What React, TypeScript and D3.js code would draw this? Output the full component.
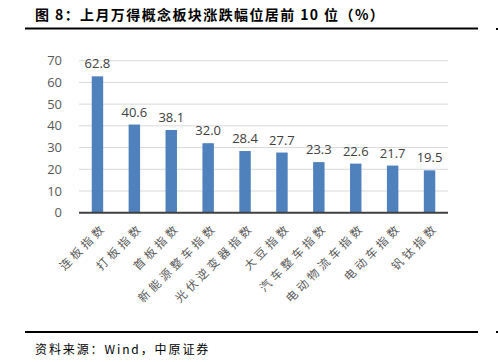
import React from "react";
import * as d3 from "d3";

const categories = ["连板指数", "打板指数", "首板指数", "新能源整车指数", "光伏逆变器指数", "大豆指数", "汽车整车指数", "电动物流车指数", "电动车指数", "钒钛指数"];
const values = [62.8, 40.6, 38.1, 32.0, 28.4, 27.7, 23.3, 22.6, 21.7, 19.5];
const yTicks = [0, 10, 20, 30, 40, 50, 60, 70];
const title = "图 8：上月万得概念板块涨跌幅位居前 10 位（%）";
const source = "资料来源：Wind，中原证券";

const W = 498, H = 362;
const left = 79, right = 448, top = 60.7, bottom = 212.7;
const cjk = "'Noto Sans CJK SC', 'Noto Sans', sans-serif";

export default function App() {
  const x = d3.scaleBand<string>().domain(categories).range([left, right]).paddingInner(0.69).paddingOuter(0.345);
  const y = d3.scaleLinear().domain([0, 70]).range([bottom, top]);
  return (
    <svg width={W} height={H} style={{ position: "absolute", left: 0, top: 0, background: "#fff" }}>
      <text x={35} y={20} fontFamily={cjk} fontWeight="bold" fontSize={14} letterSpacing={1.4} fill="#000">{title}</text>
      <rect x={25} y={27.5} width={453} height={2} fill="#000" />
      <rect x={496} y={28} width={2} height={2} fill="#000" />
      {yTicks.map(t => (
        <g key={t}>
          {t > 0 && <line x1={left} x2={right} y1={y(t)} y2={y(t)} stroke="#D9D9D9" strokeWidth={1} />}
          <text x={62} y={y(t)} dy="0.35em" textAnchor="end" fontFamily="'Open Sans', sans-serif" fontSize={13} fill="#595959">{t}</text>
        </g>
      ))}
      {values.map((v, i) => {
        const bx = x(categories[i])!;
        const bw = x.bandwidth();
        return (
          <g key={i}>
            <rect x={bx} y={y(v)} width={bw} height={bottom - y(v)} fill="#4F81BD" />
            <text x={bx + bw / 2} y={y(v) - 8} textAnchor="middle" fontFamily="'Open Sans', sans-serif" fontSize={13} fill="#404040">{v.toFixed(1)}</text>
          </g>
        );
      })}
      <line x1={left} x2={right} y1={bottom} y2={bottom} stroke="#404040" strokeWidth={2} />
      {categories.map((c, i) => {
        const cx = x(c)! + x.bandwidth() / 2;
        return (
          <text key={c} transform={`translate(${cx + 4},${bottom + 10}) rotate(-45)`} textAnchor="end" dy="0.7em"
            fontFamily={cjk} fontSize={11.5} letterSpacing={3.6} fill="#595959">{c}</text>
        );
      })}
      <rect x={25} y={331} width={453} height={2} fill="#000" />
      <rect x={496} y={331} width={2} height={2} fill="#000" />
      <text x={35} y={354} fontFamily={cjk} fontSize={12} letterSpacing={1.9} fill="#000">{source}</text>
    </svg>
  );
}
